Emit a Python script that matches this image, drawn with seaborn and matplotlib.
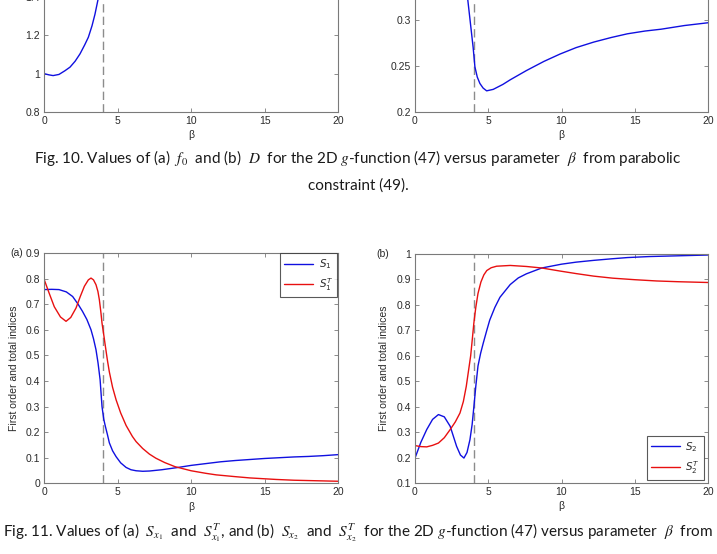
import numpy as np
import pandas as pd
import seaborn as sns
import matplotlib.pyplot as plt

# ---- data ----
beta_crit = 4.0

# Fig. 10 (a): f0 vs beta (only the visible part)
beta_f0 = [0, 0.3, 0.6, 1.0, 1.4, 1.75, 2.1, 2.43, 2.75, 3.0, 3.25, 3.45, 3.64, 3.8]
f0 = [1.0, 0.994, 0.99, 0.996, 1.015, 1.034, 1.065, 1.103, 1.15, 1.19, 1.25, 1.31, 1.38, 1.44]

# Fig. 10 (b): D vs beta
beta_D = [3.5, 3.56, 3.74, 3.97, 4.09, 4.25, 4.43, 4.65, 4.89, 5.34, 6.0, 6.5, 7.6, 8.8,
          9.9, 11.0, 12.2, 13.4, 14.5, 15.7, 16.8, 18.4, 20]
D = [0.335, 0.328, 0.3025, 0.27, 0.249, 0.238, 0.231, 0.226, 0.223, 0.2246, 0.23, 0.235,
     0.245, 0.255, 0.263, 0.27, 0.276, 0.281, 0.285, 0.288, 0.29, 0.294, 0.297]

# Fig. 11 (a): S1 and S1^T
beta_S1 = [0, 0.5, 1.0, 1.5, 1.93, 2.3, 2.6, 2.9, 3.18, 3.35, 3.52, 3.66, 3.8, 3.93, 4.05,
           4.16, 4.3, 4.43, 4.65, 4.89, 5.2, 5.57, 5.9, 6.25, 6.7, 7.16, 8.0, 9.0, 10, 11, 12,
           13, 14, 15, 16, 17, 18, 19, 20]
S1 = [0.757, 0.758, 0.757, 0.748, 0.73, 0.70, 0.672, 0.64, 0.60, 0.565, 0.522, 0.47, 0.405,
      0.3, 0.25, 0.222, 0.19, 0.158, 0.127, 0.104, 0.08, 0.062, 0.053, 0.049, 0.047, 0.048,
      0.053, 0.061, 0.07, 0.077, 0.084, 0.089, 0.093, 0.097, 0.1, 0.103, 0.105, 0.108, 0.112]

beta_S1T = [0, 0.35, 0.68, 1.1, 1.48, 1.8, 2.16, 2.45, 2.73, 3.0, 3.18, 3.35, 3.52, 3.65,
            3.75, 3.85, 3.93, 4.05, 4.16, 4.3, 4.43, 4.65, 4.89, 5.2, 5.57, 6.0, 6.25, 6.7,
            7.16, 7.6, 8.2, 8.9, 10, 11, 11.7, 13, 14, 15.8, 17, 18.5, 20]
S1T = [0.795, 0.74, 0.69, 0.65, 0.633, 0.648, 0.685, 0.73, 0.77, 0.795, 0.802, 0.795, 0.776,
       0.75, 0.717, 0.67, 0.626, 0.58, 0.535, 0.48, 0.435, 0.375, 0.326, 0.275, 0.226, 0.183,
       0.163, 0.136, 0.114, 0.098, 0.081, 0.065, 0.049, 0.039, 0.033, 0.026, 0.021, 0.015,
       0.012, 0.01, 0.008]

# Fig. 11 (b): S2 and S2^T
beta_S2 = [0, 0.4, 0.8, 1.2, 1.6, 2.0, 2.4, 2.84, 3.1, 3.34, 3.55, 3.75, 3.9, 4.02, 4.15,
           4.3, 4.48, 4.66, 4.9, 5.1, 5.45, 5.8, 6.5, 7.05, 7.6, 8.65, 10, 11, 12.2, 13.4,
           14.5, 16, 18, 20]
S2 = [0.198, 0.26, 0.31, 0.35, 0.369, 0.36, 0.323, 0.244, 0.21, 0.198, 0.22, 0.27, 0.33,
      0.40, 0.48, 0.56, 0.61, 0.65, 0.70, 0.74, 0.79, 0.83, 0.88, 0.906, 0.922, 0.945, 0.96,
      0.968, 0.975, 0.981, 0.986, 0.99, 0.993, 0.996]

beta_S2T = [0, 0.4, 0.8, 1.2, 1.6, 2.0, 2.4, 2.75, 3.07, 3.3, 3.5, 3.65, 3.8, 3.92, 4.02,
            4.15, 4.3, 4.5, 4.7, 4.9, 5.2, 5.57, 6.5, 7.6, 8.65, 9.9, 11, 12.2, 13.5, 15,
            16.5, 18, 20]
S2T = [0.247, 0.243, 0.242, 0.248, 0.257, 0.278, 0.31, 0.34, 0.375, 0.42, 0.48, 0.54, 0.6,
       0.67, 0.73, 0.79, 0.845, 0.89, 0.918, 0.935, 0.946, 0.952, 0.955, 0.951, 0.945, 0.933,
       0.923, 0.913, 0.905, 0.899, 0.894, 0.891, 0.888]

xticks = [0, 5, 10, 15, 20]

sns.set_style("ticks")
plt.rcParams['font.family'] = ['Liberation Sans', 'DejaVu Sans']
plt.rcParams['mathtext.fontset'] = 'dejavusans'

BLUE = '#1010e0'
RED = '#e81010'
SPINE = '#7a7a7a'
TXT = '#2a2a2a'

fig = plt.figure(figsize=(7.17, 5.54), dpi=100)
W, H = 717.0, 554.0


def make_ax(x0, x1, ytop, ybot):
    # pixel box -> figure coords
    return fig.add_axes([x0 / W, 1 - ybot / H, (x1 - x0) / W, (ybot - ytop) / H])


def style(ax, ylim, yticks):
    ax.set_xlim(0, 20)
    ax.set_ylim(*ylim)
    ax.set_xticks(xticks)
    ax.set_yticks(yticks)
    ax.set_yticklabels(['%g' % v for v in yticks])
    ax.tick_params(direction='in', top=True, right=True, length=3, width=0.6,
                   color=SPINE, labelcolor=TXT, labelsize=7.5, pad=3)
    for s in ax.spines.values():
        s.set_visible(True)
        s.set_color(SPINE)
        s.set_linewidth(0.8)
    ax.set_xlabel('β', fontsize=7.5, color=TXT, labelpad=3)
    ax.set_ylabel('')
    ax.axvline(beta_crit, color='#8c8c8c', lw=1.0, ls=(0, (6, 3)), zorder=1)


# ---- Fig. 10 (axes run off the top of the page) ----
ax1 = make_ax(44.3, 338, -118, 112)
sns.lineplot(x=beta_f0, y=f0, ax=ax1, color=BLUE, lw=1.0)
style(ax1, (0.8, 2.0), [0.8, 1.0, 1.2, 1.4])

ax2 = make_ax(415, 708, -118, 112)
sns.lineplot(x=beta_D, y=D, ax=ax2, color=BLUE, lw=1.0)
style(ax2, (0.2, 0.45), [0.2, 0.25, 0.3])

# ---- Fig. 11 ----
ax3 = make_ax(44.3, 338, 253, 483.3)
sns.lineplot(x=beta_S1, y=S1, ax=ax3, color=BLUE, lw=1.0, label='$S_1$')
sns.lineplot(x=beta_S1T, y=S1T, ax=ax3, color=RED, lw=1.0, label='$S_1^T$')
style(ax3, (0, 0.9), [0, 0.1, 0.2, 0.3, 0.4, 0.5, 0.6, 0.7, 0.8, 0.9])
ax3.set_ylabel('First order and total indices', fontsize=7.5, color=TXT, labelpad=5)

ax4 = make_ax(415, 708, 254, 483)
sns.lineplot(x=beta_S2, y=S2, ax=ax4, color=BLUE, lw=1.0, label='$S_2$')
sns.lineplot(x=beta_S2T, y=S2T, ax=ax4, color=RED, lw=1.0, label='$S_2^T$')
style(ax4, (0.1, 1.0), [0.1, 0.2, 0.3, 0.4, 0.5, 0.6, 0.7, 0.8, 0.9, 1.0])
ax4.set_ylabel('First order and total indices', fontsize=7.5, color=TXT, labelpad=5)

for ax, loc, anchor in [(ax3, 'upper right', (0.997, 1.0)), (ax4, 'lower right', (0.986, 0.013))]:
    leg = ax.legend(loc=loc, bbox_to_anchor=anchor, borderaxespad=0, fontsize=7.5,
                    frameon=True, fancybox=False, handlelength=2.8, handletextpad=0.5,
                    labelspacing=0.5, borderpad=0.4, labelcolor=TXT)
    leg.get_frame().set_edgecolor('#303030')
    leg.get_frame().set_linewidth(0.8)

fig.text(10 / W, 1 - 253 / H, '(a)', fontsize=7.5, color=TXT, va='center', ha='left')
fig.text(376 / W, 1 - 254 / H, '(b)', fontsize=7.5, color=TXT, va='center', ha='left')

# ---- captions ----
cap = dict(fontsize=11, color='#1a1a1a', family=['Lato', 'DejaVu Sans'], math_fontfamily='stix',
           ha='center', va='center')
fig.text(358 / W, 1 - 158 / H,
         r'Fig. 10. Values of (a)  $f_0$  and (b)  $D$  for the 2D $g$-function (47) versus parameter  $\beta$  from parabolic',
         **cap)
fig.text(358 / W, 1 - 186 / H, 'constraint (49).', **cap)
fig.text(358 / W, 1 - 533 / H,
         r'Fig. 11. Values of (a)  $S_{x_1}$  and  $S_{x_1}^{T}$, and (b)  $S_{x_2}$  and  $S_{x_2}^{T}$  for the 2D $g$-function (47) versus parameter  $\beta$  from',
         **cap)

fig.savefig('out.png', dpi=100)
